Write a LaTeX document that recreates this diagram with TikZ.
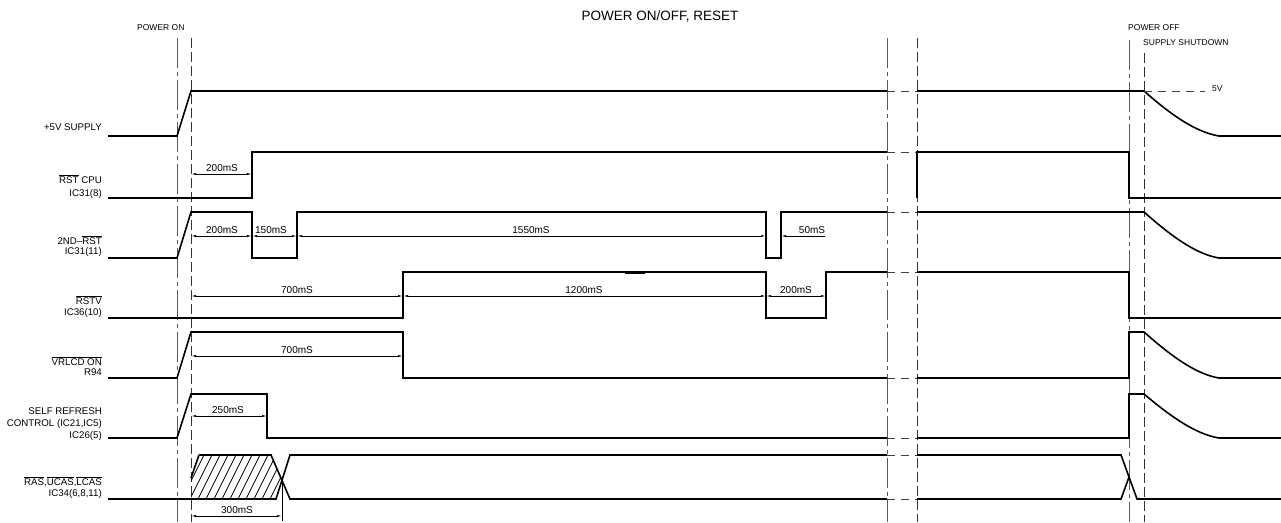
\documentclass[tikz,border=0pt]{standalone}
\usepackage{fontspec}
\setmainfont{Liberation Sans}
\usetikzlibrary{arrows.meta}
\newcommand\ovl[1]{$\overline{\mbox{#1}}$}
\tikzset{
 sig/.style={line width=1.6pt, line join=miter},
 dimline/.style={line width=0.6pt,{Latex[length=5pt,width=2pt]}-{Latex[length=5pt,width=2pt]}},
 dimleft/.style={line width=0.6pt,{Latex[length=5pt,width=2pt]}-},
 extln/.style={line width=0.6pt},
 centerln/.style={line width=1pt, black!65, dash pattern=on 30pt off 4pt on 4pt off 4pt},
 hiddenln/.style={line width=1pt, black!80, dash pattern=on 10pt off 4pt},
 gapln/.style={line width=1pt, black!75, dash pattern=on 8pt off 6pt},
 lbl/.style={font=\fontsize{9.7}{11}\selectfont, anchor=base east, inner sep=0pt},
 dimtxt/.style={font=\fontsize{10}{12}\selectfont, anchor=base, inner sep=0pt},
 toplbl/.style={font=\fontsize{8.5}{10}\selectfont, anchor=west, inner sep=0pt},
 hatchln/.style={line width=0.7pt},
}
\begin{document}
\begin{tikzpicture}[x=1pt,y=-1pt]
\useasboundingbox (0,0) rectangle (1281,522);
% titles
\node[font=\fontsize{13.5}{15}\selectfont, inner sep=0pt] (title) at (660,16) {POWER ON/OFF, RESET};
\node[toplbl] (pon) at (137,28) {POWER ON};
\node[toplbl] (poff) at (1128,28) {POWER OFF};
\node[toplbl] (shut) at (1143,43) {SUPPLY SHUTDOWN};
% vertical reference lines
\draw[centerln] (177,38)--(177,522);
\draw[hiddenln] (191,38)--(191,522);
\draw[centerln] (887,38)--(887,522);
\draw[hiddenln] (917,38)--(917,522);
\draw[centerln] (1129,40)--(1129,522);
\draw[hiddenln] (1144,53)--(1144,522);
% labels
\node[lbl] (l1) at (102,130.5) {+5V SUPPLY};
\node[lbl] (l2a) at (102,183) {\ovl{RST} CPU};
\node[lbl] (l2b) at (102,196) {IC31(8)};
\node[lbl] (l3a) at (102,244.5) {2ND--\ovl{RST}};
\node[lbl] (l3b) at (102,254.5) {IC31(11)};
\node[lbl] (l4a) at (102,304) {\ovl{RSTV}};
\node[lbl] (l4b) at (102,315.5) {IC36(10)};
\node[lbl] (l5a) at (102,365) {\ovl{VRLCD ON}};
\node[lbl] (l5b) at (102,375) {R94};
\node[lbl] (l6a) at (102,414) {SELF REFRESH};
\node[lbl] (l6b) at (102,426.5) {CONTROL (IC21,IC5)};
\node[lbl] (l6c) at (102,438.5) {IC26(5)};
\node[lbl] (l7a) at (102,485) {\ovl{RAS},\ovl{UCAS},\ovl{LCAS}};
\node[lbl] (l7b) at (102,496) {IC34(6,8,11)};
% row 1 +5V
\draw[sig] (108,136)--(177,136)--(191,91)--(887,91);
\draw[gapln] (887,91)--(917,91);
\draw[sig] (917,91)--(1144,91) .. controls (1170,114) and (1195,132) .. (1219,136)--(1281,136);
\draw[gapln] (1144,91)--(1205,91);
\node[toplbl] (v5) at (1212,89) {5V};
% row 2 RST CPU
\draw[sig] (108,198)--(252,198)--(252,152)--(887,152);
\draw[gapln] (887,152)--(917,152);
\draw[sig] (917,198)--(917,152)--(1129,152)--(1129,198)--(1281,198);
\draw[dimline] (191,174)--(252,174);
\node[dimtxt] (d1) at (222,171.5) {200mS};
% row 3 2ND-RST
\draw[sig] (108,258)--(177,258)--(191,212)--(252,212)--(252,258)--(297,258)--(297,212)--(766,212)--(766,258)--(781,258)--(781,212)--(887,212);
\draw[gapln] (887,212)--(917,212);
\draw[sig] (917,212)--(1144,212) .. controls (1170,235) and (1195,254) .. (1219,258)--(1281,258);
\draw[dimline] (191,236)--(252,236);
\draw[dimline] (252,236)--(297,236);
\draw[dimline] (297,236)--(766,236);
\draw[dimleft] (781,236)--(825,236);
\node[dimtxt] (d2) at (222,233.5) {200mS};
\node[dimtxt] (d3) at (271,233.5) {150mS};
\node[dimtxt] (d4) at (531,233.5) {1550mS};
\node[dimtxt] (d5) at (812,233.5) {50mS};
% row 4 RSTV
\draw[sig] (108,318)--(403,318)--(403,272)--(766,272)--(766,318)--(826,318)--(826,272)--(887,272);
\draw[gapln] (887,272)--(917,272);
\draw[sig] (917,272)--(1129,272)--(1129,318)--(1281,318);
\draw[line width=2.4pt] (625,272.3)--(645,272.3);
\draw[dimline] (191,296)--(403,296);
\draw[dimline] (403,296)--(766,296);
\draw[dimline] (766,296)--(826,296);
\node[dimtxt] (d6) at (297,293.5) {700mS};
\node[dimtxt] (d7) at (584,293.5) {1200mS};
\node[dimtxt] (d8) at (796,293.5) {200mS};
% row 5 VRLCD ON
\draw[sig] (108,378)--(177,378)--(191,332)--(403,332)--(403,378)--(887,378);
\draw[gapln] (887,378)--(917,378);
\draw[sig] (917,378)--(1129,378)--(1129,332)--(1144,332) .. controls (1170,355) and (1195,374) .. (1219,378)--(1281,378);
\draw[dimline] (191,356)--(403,356);
\node[dimtxt] (d9) at (297,353.5) {700mS};
% row 6 SELF REFRESH
\draw[sig] (108,438)--(177,438)--(191,394)--(267,394)--(267,438)--(887,438);
\draw[gapln] (887,438)--(917,438);
\draw[sig] (917,438)--(1129,438)--(1129,394)--(1144,394) .. controls (1170,416) and (1195,434) .. (1219,438)--(1281,438);
\draw[dimline] (191,416)--(267,416);
\node[dimtxt] (d10) at (228,413.5) {250mS};
% row 7 RAS UCAS LCAS
\begin{scope}
\clip (191,499)--(191,478)--(199,455)--(271,455)--(282,480)--(276,499)--cycle;
\foreach \k in {150,158,...,300} \draw[hatchln] (\k,499)--(\k+22,455);
\end{scope}
\draw[sig] (108,499)--(276,499)--(290,455)--(887,455);
\draw[gapln] (887,455)--(917,455);
\draw[sig] (917,455)--(1121,455)--(1137,499)--(1281,499);
\draw[sig] (199,455)--(271,455)--(290,499)--(887,499);
\draw[gapln] (887,499)--(917,499);
\draw[sig] (917,499)--(1121,499)--(1129,477);
\draw[sig] (191,478)--(199,455);
\draw[extln] (282,480)--(282,521);
\draw[dimline] (191,516)--(282,516);
\node[dimtxt] (d11) at (237,513.5) {300mS};
\end{tikzpicture}
\end{document}
